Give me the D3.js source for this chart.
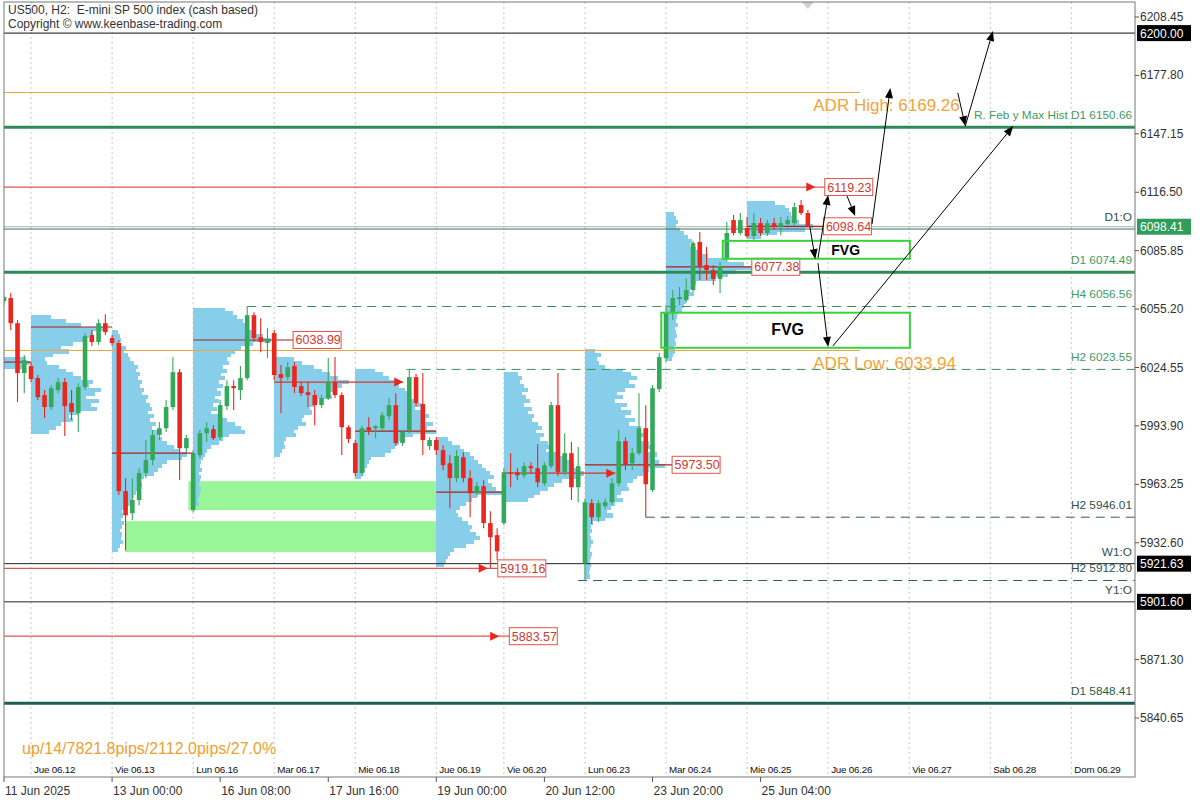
<!DOCTYPE html>
<html><head><meta charset="utf-8">
<script src="https://cdn.jsdelivr.net/npm/d3@7"></script>
<style>
body{margin:0;background:#fff}
svg{display:block}
text{font-family:"Liberation Sans",Arial,sans-serif}
</style></head>
<body><svg id="c" width="1200" height="800"></svg>
<script>
// ---------------- DATA ----------------
const opens = [6059.4,6061.0,6047.8,6021.6,6025.3,6019.0,6010.1,6003.8,6012.7,6016.9,
6005.9,6000.6,6014.3,6041.6,6037.9,6047.8,6040.0,6037.4,5959.7,5948.1,
5955.0,5969.2,5976.0,5989.1,5992.7,6003.8,6022.1,5982.2,5949.7,5978.6,
5990.1,5992.2,5988.0,6004.3,6014.8,6012.7,6019.0,6052.0,6040.5,6037.4,
6042.6,6021.1,6019.5,6025.3,6014.8,6011.6,6010.1,6004.8,6008.5,6016.9,
6010.1,5993.2,5984.9,5969.2,5993.2,5992.7,5992.7,5999.0,6004.8,5984.9,
5991.7,6019.5,6005.4,5983.3,5986.5,5981.2,5974.3,5966.5,5977.5,5966.5,
5958.6,5962.3,5942.9,5936.6,5942.9,5969.6,5969.6,5968.0,5972.8,5971.7,
5963.8,5972.8,6004.8,5969.6,5979.6,5961.7,5921.8,5953.4,5946.0,5951.8,
5953.9,5963.8,5985.9,5974.3,5979.6,5992.7,5960.2,6013.2,6029.5,6053.6,
6060.4,6059.9,6065.2,6090.4,6078.3,6075.7,6071.0,6082.0,6101.9,6095.1,
6097.7,6093.5,6100.3,6095.1,6100.3,6098.2,6099.8,6100.3,6109.8,6105.6];
const highs = [6062.5,6063.6,6049.4,6031.1,6027.4,6020.6,6012.7,6015.3,6019.0,6019.0,
6012.7,6016.4,6042.6,6044.2,6049.9,6052.5,6041.6,6038.9,5966.5,5966.5,
5971.7,5986.5,5991.7,5995.9,6007.5,6030.0,6023.7,5989.1,5981.2,5991.7,
5995.9,5994.3,6007.5,6017.9,6017.9,6025.3,6056.8,6053.6,6050.4,6045.2,
6044.2,6025.8,6027.4,6027.4,6016.9,6016.9,6012.7,6010.1,6029.5,6030.0,
6011.6,5994.3,5986.5,5994.3,5998.5,5994.3,6001.1,6008.5,6011.1,5991.7,
6023.7,6021.1,6021.6,5988.0,5988.0,5983.8,5978.6,5981.2,5980.1,5970.7,
5964.4,5965.4,5949.1,5940.2,5971.7,5979.6,5971.7,5974.9,5974.9,5984.3,
5974.9,6006.4,6021.6,5990.1,5985.4,5982.8,5955.5,5955.5,5955.0,5956.0,
5966.5,5991.7,5988.0,5982.2,6011.1,6004.8,6015.3,6032.1,6057.3,6065.2,
6066.8,6071.4,6090.9,6095.6,6087.8,6078.3,6079.9,6100.9,6104.5,6105.6,
6103.5,6105.6,6103.0,6101.9,6103.0,6103.5,6104.0,6110.8,6112.4,6107.2];
const lows = [6057.3,6044.2,6006.4,6011.1,6016.9,6007.5,5998.0,6002.2,6011.1,5988.6,
5997.0,5990.7,6012.7,6035.8,6036.3,6041.6,6035.8,5957.6,5928.7,5944.5,
5952.3,5966.5,5973.3,5986.5,5990.7,6002.2,5965.5,5980.1,5948.6,5977.0,
5985.4,5986.5,5986.5,6002.2,6002.2,6007.5,6017.9,6037.9,6032.6,6029.5,
6017.9,6000.6,6017.9,6011.1,6009.5,6003.8,5994.3,6003.2,6007.5,6008.5,
5978.6,5984.9,5967.5,5967.5,5989.1,5987.5,5991.7,5997.0,5983.3,5983.3,
5990.1,6004.3,5978.6,5981.2,5978.6,5970.7,5950.7,5964.4,5964.4,5946.0,
5956.5,5940.2,5919.2,5923.4,5941.8,5961.7,5965.4,5966.5,5969.1,5961.7,
5962.3,5971.7,5967.5,5968.0,5955.0,5953.9,5912.8,5942.4,5943.4,5950.2,
5952.3,5962.3,5970.7,5970.7,5978.6,5946.0,5959.2,6011.6,6027.4,6049.4,
6057.3,6058.8,6064.1,6070.4,6070.4,6067.8,6063.6,6079.9,6094.0,6094.0,
6092.5,6091.4,6093.5,6093.5,6096.7,6094.0,6097.7,6098.8,6104.5,6098.2];
const closes = [6061.5,6047.8,6021.6,6028.4,6018.5,6009.0,6003.8,6013.7,6016.9,6004.3,
6001.2,6014.3,6041.0,6037.9,6047.8,6043.1,6037.4,5959.7,5947.0,5955.0,
5969.2,5976.0,5989.1,5992.7,6003.8,6022.1,5982.2,5987.5,5979.6,5990.1,
5992.7,5987.5,6004.8,6014.8,6013.7,6019.0,6052.0,6040.0,6037.9,6039.5,
6020.6,6019.0,6024.7,6014.3,6011.1,6010.1,6004.8,6008.5,6016.9,6010.1,
5993.2,5987.0,5969.2,5992.7,5991.7,5993.8,5999.5,6004.8,5984.9,5990.7,
6019.5,6005.9,5986.5,5986.5,5981.2,5973.3,5966.5,5978.1,5966.5,5958.6,
5962.3,5942.9,5935.5,5928.1,5969.6,5969.1,5968.0,5972.8,5971.7,5964.4,
5973.3,6004.8,5969.6,5979.6,5961.7,5972.8,5953.9,5946.0,5953.4,5953.9,
5963.8,5985.9,5973.8,5979.6,5992.7,5963.3,6013.7,6030.0,6053.6,6061.0,
6061.5,6065.2,6089.8,6077.8,6075.7,6071.0,6077.8,6095.1,6095.1,6101.9,
6093.5,6100.3,6095.1,6100.3,6098.2,6100.3,6101.9,6108.7,6105.6,6098.4];

// day separators (bar index of first bar of each day) and labels
const dayIdx = [4,16,28,40,52,64,74,86,98,110,122,134,146,158];
const dayLabels = ["Jue 06.12","Vie 06.13","Lun 06.16","Mar 06.17","Mie 06.18","Jue 06.19","Vie 06.20","Lun 06.23","Mar 06.24","Mie 06.25","Jue 06.26","Vie 06.27","Sab 06.28","Dom 06.29"];
// time axis
const timeIdx = [0,16,32,48,64,80,96,112];
const timeLabels = ["11 Jun 2025","13 Jun 00:00","16 Jun 08:00","17 Jun 16:00","19 Jun 00:00","20 Jun 12:00","23 Jun 20:00","25 Jun 04:00"];
// price axis
const priceTicks = [6208.45,6177.80,6147.15,6116.50,6085.85,6055.20,6024.55,5993.90,5963.25,5932.60,5871.30,5840.65];

// daily volume profiles (2-point rows from top price)
const profStart = [0,4,16,28,40,52,64,74,86,98,110];
const profTop = [6030,6052,6044,6056,6030,6024,5988,6022,6034,6106,6112];
const vol0611 = [22,26,18];
const vol0612 = [20,35,50,75,62,58,55,42,30,38,22,14,16,28,35,42,50,62,58,70,64,55,68,60,66,48,38,42,30,25,18];
const vol0613 = [6,8,9,7,14,12,16,18,22,26,24,28,26,30,28,32,30,36,34,38,40,36,42,38,44,40,48,46,50,55,62,68,75,70,55,50,46,42,32,28,30,26,24,22,20,18,12,10,11,9,12,10,8,10,9,11,8,6];
const vol0616 = [32,40,44,50,56,52,62,70,78,60,48,42,38,34,36,30,34,28,32,26,30,24,28,22,26,20,24,18,28,34,42,48,52,36,30,26,18,14,12,10,8,7,9,6,8,7,6,8,7,6,5,6];
const vol0617 = [20,28,40,48,56,64,75,68,62,54,58,44,40,36,38,30,28,32,24,20,22,12,10,11,8,6];
const vol0618 = [20,28,34,40,44,50,56,52,62,66,60,70,74,68,78,72,81,58,50,44,40,36,30,16,14,12,10,8,6];
const vol0619 = [12,16,24,28,34,38,42,46,50,54,58,52,56,60,66,40,36,30,24,20,22,26,32,36,34,40,44,38,30,18,14,12,10,8];
const vol0620 = [14,18,16,20,24,18,22,26,20,28,24,30,28,34,38,32,40,36,44,48,42,52,60,66,70,74,80,72,58,50,44,36,30,24];
const vol0623 = [10,16,12,14,20,38,46,52,44,50,40,32,38,30,42,36,46,40,50,44,56,52,60,54,64,68,62,72,66,74,80,64,58,52,48,42,44,36,32,38,30,26,22,28,20,8,6,7,5,6,8,6,5,7,6,5,6,5,4,5];
const vol0624 = [8,10,12,10,14,18,22,26,24,30,36,42,60,78,86,70,62,50,30,26,24,28,22,20,18,16,12,11,10,12,9,10,11,9,10,8,9,7,6];
const vol0625 = [28,38,42,44,46,52,66,58,30,14];
const profileVols = [vol0611,vol0612,vol0613,vol0616,vol0617,vol0618,vol0619,vol0620,vol0623,vol0624,vol0625];

// POC lines
const pocPrice = [6027.4,6045.8,5979.6,6038.99,6016.9,5991.2,5959.2,5969.1,5973.50,6077.38,6098.64];
const pocEnd   = [4,16,28,42.8,59.1,64,74,90.5,98.9,110.7,121.3];
const pocType  = ["line","line","line","label","arrow","line","line","arrow","label","label","label"];

// naked POC levels with arrows + labels
const nakedPrice = [6119.23,5919.16,5883.57];
const nakedTip   = [120.1,71.6,73.3];
const nakedBox   = [121.5,73.1,74.8];

// demand zones
const zoneTop = [5964.9,5943.9], zoneBot = [5949.7,5927.7], zoneStart = [27.3,17.9], zoneEnd = [64,64];
// FVG boxes
const fvgTop = [6091.0,6053.3], fvgBot = [6081.6,6034.9], fvgStart = [106.4,97.3], fvgEnd = [134.1,134.1];
const fvgTextIdx = [124.6,116];

// horizontal levels
const lvlPrice = [6200.00,6150.66,6098.41,6097.2,6074.49,6056.56,6023.55,5946.01,5921.63,5912.80,5901.60,5848.41];
const lvlStart = [0,0,0,0,0,36,59.6,95,0,85,0,0];
const lvlColor = ["#111","#2e8b57","#9fbfa2","#4d6670","#2e8b57","#3a8e5a","#3a8e5a","#2f5f55","#222","#2f5f55","#222","#1e5e50"];
const lvlWidth = [1,3,1,1,3,1,1,1,1,1,1,3];
const lvlDash  = [null,null,null,null,null,"9,6","9,6","9,6",null,"9,6",null,null];
// right-side level captions
const capText  = ["R. Feb y Max Hist D1 6150.66","D1:O","D1 6074.49","H4 6056.56","H2 6023.55","H2 5946.01","W1:O","H2 5912.80","Y1:O","D1 5848.41"];
const capPrice = [6150.66,6097.2,6074.49,6056.56,6023.55,5946.01,5921.63,5912.80,5901.60,5848.41];
const capColor = ["#3f9a63","#2f4f4f","#3f9a63","#3f9a63","#3f9a63","#2f4f4f","#2f4f4f","#2f4f4f","#2f4f4f","#1e5e50"];

// ADR levels
const adrPrice = [6169.26,6033.94];
const adrText = ["ADR High: 6169.26","ADR Low: 6033.94"];
const adrEnd = 126.7, adrTextIdx = 119.8;

// right axis boxes
const boxPrice = [6200.00,6098.41,5921.63,5901.60];
const boxFill = ["#000","#2f9e5b","#000","#000"];

// scenario arrows
const arrFromIdx = [119.3,120.5,124.8,128.5,141.2,142.3,120.5,122.7];
const arrFromPx  = [6098.2,6082.0,6114.5,6099.8,6168.6,6151.2,6079.3,6035.8];
const arrToIdx   = [120.1,122.0,126.0,131.2,142.3,146.4,122.0,149.4];
const arrToPx    = [6081.4,6115.0,6104.0,6171.2,6151.2,6201.1,6035.3,6151.2];

// ---------------- DRAW ----------------
const svg = d3.select("#c");
const L = 4, T = 2, R = 1135, B = 777;
const x = d3.scaleLinear().domain([0,167.5]).range([4,1135.5]);
const y = d3.scaleLinear().domain([6208.45,5840.65]).range([17,718]);
const vw = d3.scaleLinear().domain([0,100]).range([0,100]);

svg.append("rect").attr("width",1200).attr("height",800).attr("fill","#fff");
svg.append("defs").append("clipPath").attr("id","clip")
  .append("rect").attr("x",L).attr("y",T).attr("width",R-L).attr("height",B-T);
const g = svg.append("g").attr("clip-path","url(#clip)");

// grid
g.selectAll(".grid").data(dayIdx).join("line")
  .attr("x1",d=>x(d)).attr("x2",d=>x(d)).attr("y1",T).attr("y2",B)
  .attr("stroke","#c8c8c8").attr("stroke-dasharray","2,3");

// zones
zoneTop.forEach((t,i)=>{
  g.append("rect").attr("x",x(zoneStart[i])).attr("width",x(zoneEnd[i])-x(zoneStart[i]))
   .attr("y",y(t)).attr("height",y(zoneBot[i])-y(t)).attr("fill","#98f598");
});

// profiles
const STEP = 2;
profileVols.forEach((vols,pi)=>{
  const x0 = x(profStart[pi]);
  vols.forEach((v,k)=>{
    const pt = profTop[pi]-k*STEP, pb = pt-STEP;
    g.append("rect").attr("x",x0).attr("width",vw(v))
     .attr("y",y(pt)).attr("height",y(pb)-y(pt)+0.3)
     .attr("fill","#87ceeb").attr("shape-rendering","crispEdges");
  });
});

// horizontal levels
lvlPrice.forEach((p,i)=>{
  g.append("line").attr("x1",x(lvlStart[i])).attr("x2",R).attr("y1",y(p)).attr("y2",y(p))
   .attr("stroke",lvlColor[i]).attr("stroke-width",lvlWidth[i])
   .attr("stroke-dasharray",lvlDash[i]);
});
// ADR lines
adrPrice.forEach(p=>{
  g.append("line").attr("x1",x(0)).attr("x2",x(adrEnd)).attr("y1",Math.round(y(p))+0.5).attr("y2",Math.round(y(p))+0.5)
   .attr("stroke","#f0a640").attr("stroke-width",1.2);
});

// red label box helper
function redBox(idx,price,txt){
  const bx = x(idx), by = y(price);
  g.append("rect").attr("x",bx).attr("y",by-8.5).attr("width",48).attr("height",17)
   .attr("fill","#fff").attr("stroke","#e0544a").attr("stroke-width",1);
  g.append("text").attr("x",bx+2.5).attr("y",by+4.5).attr("font-size",12.5)
   .attr("fill","#cf3a31").text(txt);
}
function redArrowHead(tipX,yy){
  g.append("path").attr("d",`M${tipX},${yy}L${tipX-9},${yy-4.5}L${tipX-9},${yy+4.5}Z`).attr("fill","#e8261d");
}

// POC lines
pocPrice.forEach((p,i)=>{
  const yy = y(p);
  g.append("line").attr("x1",x(profStart[i])).attr("x2",x(pocEnd[i])).attr("y1",yy).attr("y2",yy)
   .attr("stroke",pocType[i]==="arrow"?"#d8332a":"#a8201a").attr("stroke-width",pocType[i]==="arrow"?1.3:1.2);
  if(pocType[i]==="arrow") redArrowHead(x(pocEnd[i]),yy);
});

// naked levels
nakedPrice.forEach((p,i)=>{
  const yy = y(p);
  g.append("line").attr("x1",L).attr("x2",x(nakedBox[i])).attr("y1",yy).attr("y2",yy)
   .attr("stroke","#e3544c").attr("stroke-width",1.2);
  redArrowHead(x(nakedTip[i]),yy);
});

// candles
const idxs = d3.range(opens.length);
const up = i => closes[i] >= opens[i];
const gc = "#35a95a", rc = "#e8281f";
g.selectAll(".wick").data(idxs).join("line")
  .attr("x1",i=>x(i)).attr("x2",i=>x(i)).attr("y1",i=>y(highs[i])).attr("y2",i=>y(lows[i]))
  .attr("stroke",i=>up(i)?gc:rc).attr("stroke-width",1.1);
g.selectAll(".body").data(idxs).join("rect")
  .attr("x",i=>x(i)-2.3).attr("width",4.6)
  .attr("y",i=>y(Math.max(opens[i],closes[i])))
  .attr("height",i=>Math.max(1,Math.abs(y(opens[i])-y(closes[i]))))
  .attr("fill",i=>up(i)?gc:rc);

// POC labels (after candles so on top)
pocPrice.forEach((p,i)=>{ if(pocType[i]==="label") redBox(pocEnd[i],p,p.toFixed(2)); });
nakedPrice.forEach((p,i)=>redBox(nakedBox[i],p,p.toFixed(2)));

// FVG boxes
fvgTop.forEach((t,i)=>{
  g.append("rect").attr("x",x(fvgStart[i])).attr("width",x(fvgEnd[i])-x(fvgStart[i]))
   .attr("y",y(t)).attr("height",y(fvgBot[i])-y(t))
   .attr("fill","none").attr("stroke","#3ad23a").attr("stroke-width",2);
  g.append("text").attr("x",x(fvgTextIdx[i])).attr("y",(y(t)+y(fvgBot[i]))/2+5)
   .attr("text-anchor","middle").attr("font-weight","bold").attr("font-size",i===0?14:16)
   .attr("fill","#000").text("FVG");
});

// ADR texts
adrPrice.forEach((p,i)=>{
  g.append("text").attr("x",x(adrTextIdx)).attr("y",y(p)+19).attr("font-size",17)
   .attr("fill","#f2a43a").text(adrText[i]);
});

// arrows
arrFromIdx.forEach((fi,i)=>{
  const x1=x(fi), y1=y(arrFromPx[i]), x2=x(arrToIdx[i]), y2=y(arrToPx[i]);
  const a = Math.atan2(y2-y1,x2-x1), len=10, hw=4;
  const bx = x2-len*Math.cos(a), by = y2-len*Math.sin(a);
  g.append("line").attr("x1",x1).attr("y1",y1).attr("x2",bx).attr("y2",by).attr("stroke","#000").attr("stroke-width",1);
  const px=-Math.sin(a)*hw, py=Math.cos(a)*hw;
  g.append("path").attr("d",`M${x2},${y2}L${bx+px},${by+py}L${bx-px},${by-py}Z`).attr("fill","#000");
});

// right captions
capText.forEach((t,i)=>{
  g.append("text").attr("x",R-3).attr("y",y(capPrice[i])-8).attr("text-anchor","end")
   .attr("font-size",11.8).attr("fill",capColor[i]).text(t);
});

// day labels
g.selectAll(".dl").data(dayIdx).join("text")
  .attr("x",d=>x(d)+3).attr("y",773).attr("font-size",9.8).attr("letter-spacing","-0.2")
  .attr("fill","#111").text((d,i)=>dayLabels[i]);

// stats text
g.append("text").attr("x",22).attr("y",754).attr("font-size",16).attr("fill","#f0a030")
  .text("up/14/7821.8pips/2112.0pips/27.0%");

// title
g.append("text").attr("x",8).attr("y",14).attr("font-size",12).attr("fill","#333").attr("xml:space","preserve")
  .text("US500, H2:  E-mini SP 500 index (cash based)");
g.append("text").attr("x",8).attr("y",28).attr("font-size",12).attr("fill","#333")
  .text("Copyright \u00a9 www.keenbase-trading.com");

// shift marker
g.append("path").attr("d",`M${x(119)-6},${T}L${x(119)+6},${T}L${x(119)},${T+7}Z`).attr("fill","#d0d0d0");

// frame
svg.append("rect").attr("x",L).attr("y",T).attr("width",R-L).attr("height",B-T)
  .attr("fill","none").attr("stroke","#777").attr("stroke-width",1);

// right axis
const ax = svg.append("g");
priceTicks.forEach(p=>{
  ax.append("line").attr("x1",R).attr("x2",R+4).attr("y1",y(p)).attr("y2",y(p)).attr("stroke","#555");
  ax.append("text").attr("x",R+5).attr("y",y(p)+4).attr("font-size",12).attr("fill","#333").text(p.toFixed(2));
});
boxPrice.forEach((p,i)=>{
  ax.append("rect").attr("x",R+2).attr("y",y(p)-8).attr("width",54).attr("height",16).attr("fill",boxFill[i]);
  ax.append("text").attr("x",R+5).attr("y",y(p)+4.5).attr("font-size",12).attr("fill","#fff").text(p.toFixed(2));
});

// bottom axis
timeIdx.forEach((t,i)=>{
  ax.append("line").attr("x1",x(t)).attr("x2",x(t)).attr("y1",B).attr("y2",B+5).attr("stroke","#555");
  ax.append("text").attr("x",x(t)+1).attr("y",795).attr("font-size",12).attr("fill","#333").text(timeLabels[i]);
});
</script>
</body></html>
